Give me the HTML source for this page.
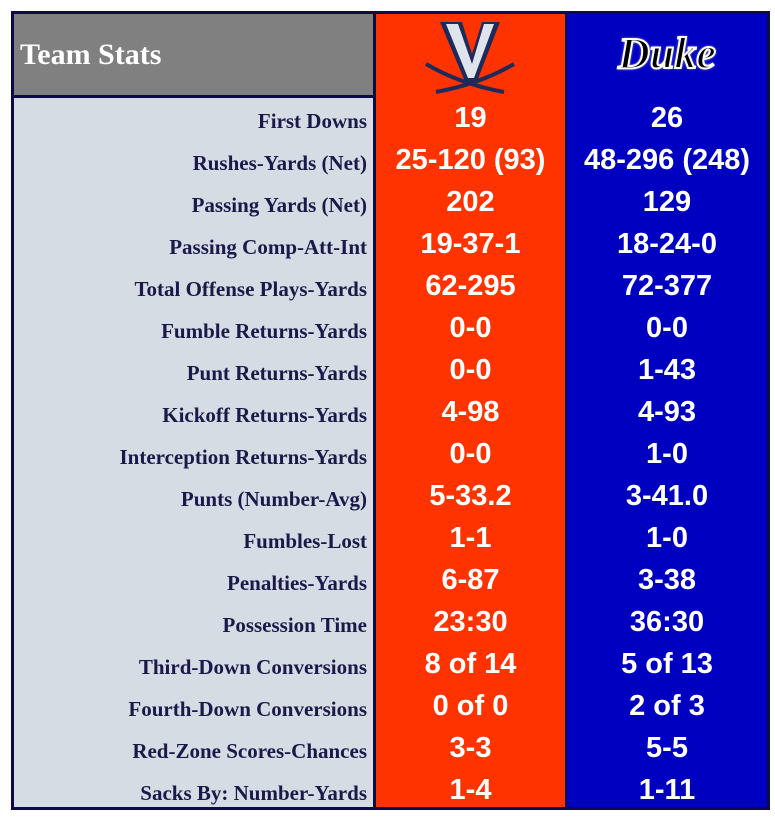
<!DOCTYPE html>
<html><head><meta charset="utf-8"><style>
body{margin:0;width:775px;height:822px;background:#fff;position:relative;overflow:hidden}
#frame{position:absolute;left:11px;top:11px;width:753px;height:793px;border:3px solid #0b0b45;background:#d6dce4}
.hdr{position:absolute;left:0;top:0;width:359px;background:#808080;color:#fff;font:bold 30px "Liberation Serif",serif;line-height:81px;padding-left:6px;box-sizing:border-box;border-bottom:3px solid #0b0b45;height:84px}
.colO{position:absolute;left:359px;top:0;width:189px;height:793px;background:#ff3300;border-left:3px solid #0b0b45;border-right:2px solid #0b0b45}
.colB{position:absolute;left:553px;top:0;width:200px;height:793px;background:#0000c0}
.row{position:absolute;left:0;width:753px;height:42px}
.lab{position:absolute;left:0;width:353px;text-align:right;font:bold 21px "Liberation Serif",serif;line-height:42px;color:#1a1a4a}
.v1,.v2{position:absolute;text-align:center;font:bold 29px "Liberation Sans",sans-serif;line-height:42px;color:#fff}
.v1{left:362px;width:189px}.v2{left:553px;width:200px}
</style></head><body>
<div id="frame">
<div class="colO"></div>
<div class="colB"></div>
<div class="hdr">Team Stats</div>
<svg style="position:absolute;left:406px;top:4px" width="100" height="76" viewBox="0 0 100 76">
<polygon points="20,4 42,4 52,36 62,4 80,4 56,66 46,66" fill="#1f2a5a"/>
<polygon points="26,6 38,6 52,46 64,6 74,6 54,60 48,60" fill="#dfe4ec"/>
<path d="M6,46 Q40,66 84,74" stroke="#1f2a5a" stroke-width="4" fill="none"/>
<path d="M94,46 Q60,66 16,74" stroke="#1f2a5a" stroke-width="4" fill="none"/>
</svg>
<div style="position:absolute;left:553px;top:14px;width:200px;text-align:center;font:italic bold 44px 'Liberation Serif',serif;color:#000;-webkit-text-stroke:2px #fff;text-shadow:0 0 3px #fff">Duke</div>
<div id="rows"></div>
</div>
<script>
const labels=["First Downs","Rushes-Yards (Net)","Passing Yards (Net)","Passing Comp-Att-Int","Total Offense Plays-Yards","Fumble Returns-Yards","Punt Returns-Yards","Kickoff Returns-Yards","Interception Returns-Yards","Punts (Number-Avg)","Fumbles-Lost","Penalties-Yards","Possession Time","Third-Down Conversions","Fourth-Down Conversions","Red-Zone Scores-Chances","Sacks By: Number-Yards"];
const uva=["19","25-120 (93)","202","19-37-1","62-295","0-0","0-0","4-98","0-0","5-33.2","1-1","6-87","23:30","8 of 14","0 of 0","3-3","1-4"];
const duke=["26","48-296 (248)","129","18-24-0","72-377","0-0","1-43","4-93","1-0","3-41.0","1-0","3-38","36:30","5 of 13","2 of 3","5-5","1-11"];
const c=document.getElementById('rows');
labels.forEach((l,i)=>{
const r=document.createElement('div');r.className='row';r.style.top=(83+i*42)+'px';


const a=document.createElement('div');a.className='lab';a.textContent=l;a.style.top='3px';


const b=document.createElement('div');b.className='v1';b.textContent=uva[i];


const d=document.createElement('div');d.className='v2';d.textContent=duke[i];


r.append(a,b,d);c.appendChild(r);});
</script>
</body></html>
